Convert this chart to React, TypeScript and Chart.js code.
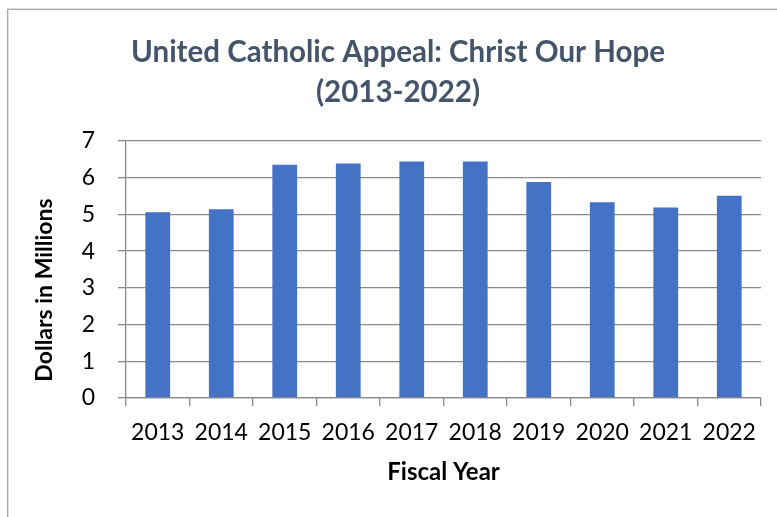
import React, { useEffect, useRef } from 'react';
import { Chart, registerables } from 'chart.js';

Chart.register(...registerables);

const categories = ['2013', '2014', '2015', '2016', '2017', '2018', '2019', '2020', '2021', '2022'];
const donations = [5.06, 5.14, 6.35, 6.39, 6.44, 6.44, 5.88, 5.33, 5.19, 5.51];
const yMin = 0;
const yMax = 7;
const yStep = 1;
const titleLines = ['United Catholic Appeal: Christ Our Hope', '(2013-2022)'];
const xAxisTitle = 'Fiscal Year';
const yAxisTitle = 'Dollars in Millions';

const FONT = "Lato, 'Open Sans', sans-serif";
const GRID = '#8a8a8a';

const framePlugin = {
  id: 'frame',
  beforeDraw(chart: any) {
    const ctx = chart.ctx;
    ctx.save();
    ctx.fillStyle = '#ffffff';
    ctx.fillRect(0, 0, chart.width, chart.height);
    ctx.strokeStyle = '#a6a6a6';
    ctx.lineWidth = 1.3;
    ctx.strokeRect(7.7, 9.3, chart.width + 20, chart.height + 20);
    ctx.restore();
  },
};

const yTitlePlugin = {
  id: 'yTitle',
  afterDraw(chart: any) {
    const ctx = chart.ctx;
    const area = chart.chartArea;
    ctx.save();
    ctx.translate(area.left - 81, area.bottom - 108);
    ctx.rotate(-Math.PI / 2);
    ctx.font = `bold 23px ${FONT}`;
    ctx.fillStyle = '#000000';
    ctx.textAlign = 'center';
    ctx.textBaseline = 'middle';
    ctx.fillText(yAxisTitle, 0, 0);
    ctx.restore();
  },
};

export default function App() {
  const ref = useRef<HTMLCanvasElement | null>(null);

  useEffect(() => {
    if (!ref.current) return;
    const chart = new Chart(ref.current, {
      type: 'bar',
      data: {
        labels: categories,
        datasets: [
          {
            data: donations,
            backgroundColor: '#4472C4',
            borderWidth: 0,
            categoryPercentage: 1,
            barPercentage: 0.39,
          },
        ],
      },
      plugins: [framePlugin, yTitlePlugin],
      options: {
        responsive: false,
        animation: false,
        layout: { padding: { left: 35, right: 16, top: 0, bottom: 0 } },
        plugins: {
          legend: { display: false },
          tooltip: { enabled: false },
          title: {
            display: true,
            text: titleLines,
            color: '#44546A',
            font: { family: FONT, size: 29.5, weight: 'bold', lineHeight: 1.356 },
            padding: { top: 32, bottom: 29 },
          },
        },
        scales: {
          x: {
            afterFit(scale: any) {
              scale.height = 119;
            },
            grid: {
              display: true,
              offset: true,
              drawOnChartArea: false,
              drawTicks: true,
              tickLength: 8,
              color: GRID,
              lineWidth: 1.3,
            },
            border: { display: true, color: GRID, width: 1.3 },
            ticks: {
              color: '#000000',
              font: { family: FONT, size: 23 },
              padding: 13,
              maxRotation: 0,
              autoSkip: false,
            },
            title: {
              display: true,
              text: xAxisTitle,
              color: '#000000',
              font: { family: FONT, size: 24, weight: 'bold', lineHeight: 1.2 },
              padding: { top: 0, bottom: 30 },
            },
          },
          y: {
            min: yMin,
            max: yMax,
            afterFit(scale: any) {
              scale.width = 91;
            },
            grid: {
              display: true,
              drawTicks: true,
              tickLength: 8,
              color: GRID,
              lineWidth: 1.3,
            },
            border: { display: true, color: GRID, width: 1.3 },
            ticks: {
              stepSize: yStep,
              color: '#000000',
              font: { family: FONT, size: 23 },
              padding: 23,
            },
          },
        },
      },
    });
    return () => chart.destroy();
  }, []);

  return (
    <canvas
      ref={ref}
      width={777}
      height={517}
      style={{ position: 'fixed', left: 0, top: 0, width: 777, height: 517, display: 'block' }}
    />
  );
}
